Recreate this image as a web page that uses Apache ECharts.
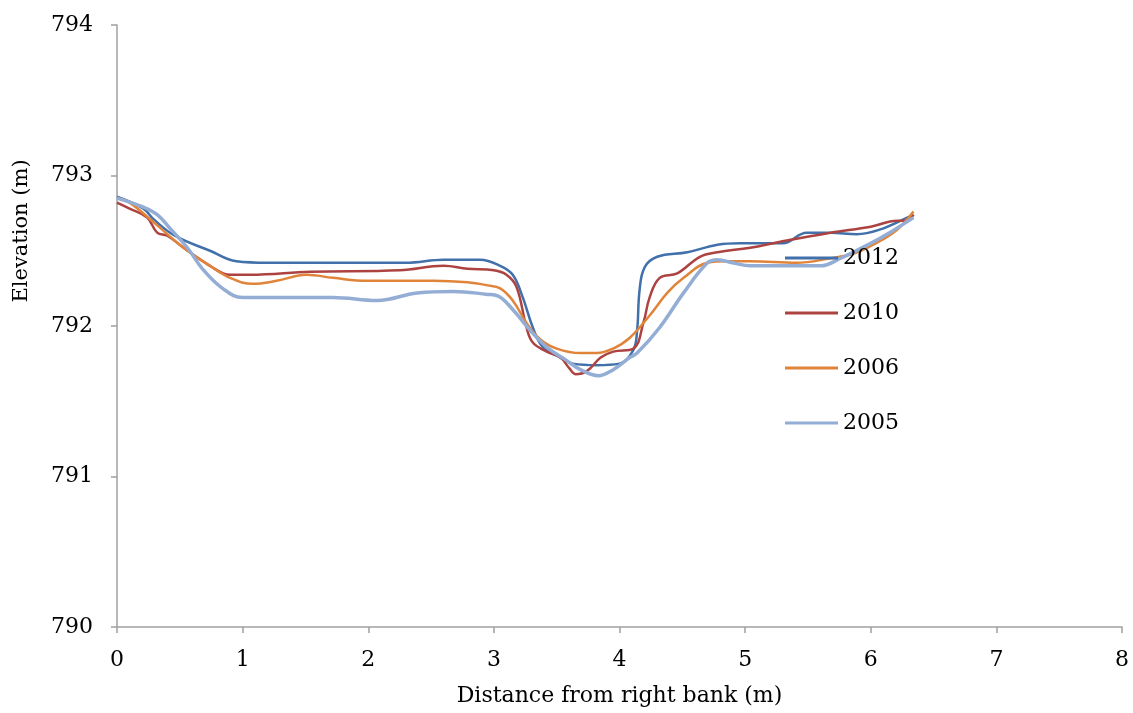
<!DOCTYPE html>
<html>
<head>
<meta charset="utf-8">
<script src="https://cdn.jsdelivr.net/npm/echarts@6/dist/echarts.min.js"></script>
<style>
  html, body { margin: 0; padding: 0; background: #fff; }
  #chart { width: 1133px; height: 713px; }
</style>
</head>
<body>
<div id="chart"></div>
<script>
// Cross-section survey: distance from right bank (m) vs bed elevation (m)
const years = ['2012', '2010', '2006', '2005'];

const dist2012 = [0, 0.21, 0.29, 0.46, 0.74, 0.95, 1.2, 1.8, 2.3, 2.6, 2.89, 3.05, 3.15, 3.23, 3.31, 3.39, 3.53, 3.63, 3.82, 4.0, 4.11, 4.14, 4.16, 4.2, 4.3, 4.54, 4.78, 4.96, 5.14, 5.3, 5.49, 5.68, 5.89, 6.07, 6.29, 6.34];
const elev2012 = [792.86, 792.78, 792.71, 792.6, 792.5, 792.43, 792.42, 792.42, 792.42, 792.44, 792.44, 792.4, 792.34, 792.19, 791.99, 791.86, 791.79, 791.75, 791.74, 791.75, 791.84, 791.97, 792.24, 792.39, 792.46, 792.49, 792.54, 792.55, 792.55, 792.55, 792.62, 792.62, 792.61, 792.64, 792.72, 792.74];

const dist2010 = [0, 0.1, 0.24, 0.32, 0.4, 0.53, 0.74, 0.9, 1.06, 1.54, 2.25, 2.6, 2.79, 3.0, 3.1, 3.18, 3.26, 3.31, 3.42, 3.53, 3.6, 3.65, 3.74, 3.85, 3.95, 4.11, 4.19, 4.24, 4.32, 4.46, 4.64, 4.78, 5.04, 5.28, 5.68, 6.0, 6.21, 6.29, 6.34];
const elev2010 = [792.82, 792.78, 792.72, 792.62, 792.6, 792.52, 792.4, 792.34, 792.34, 792.36, 792.37, 792.4, 792.38, 792.37, 792.34, 792.26, 791.99, 791.89, 791.83, 791.79, 791.72, 791.68, 791.7, 791.79, 791.83, 791.85, 792.02, 792.19, 792.32, 792.35, 792.46, 792.49, 792.52, 792.56, 792.62, 792.66, 792.7, 792.7, 792.74];

const dist2006 = [0, 0.1, 0.29, 0.53, 0.74, 0.9, 1.08, 1.27, 1.51, 1.72, 1.99, 2.52, 2.79, 2.95, 3.05, 3.15, 3.26, 3.37, 3.5, 3.69, 3.82, 3.95, 4.08, 4.24, 4.38, 4.51, 4.7, 4.86, 5.04, 5.41, 5.68, 5.86, 6.02, 6.21, 6.34];
const elev2006 = [792.85, 792.82, 792.69, 792.52, 792.4, 792.32, 792.28, 792.3, 792.34, 792.32, 792.3, 792.3, 792.29, 792.27, 792.25, 792.17, 792.02, 791.91, 791.85, 791.82, 791.82, 791.85, 791.92, 792.07, 792.22, 792.32, 792.42, 792.43, 792.43, 792.42, 792.45, 792.48, 792.54, 792.64, 792.76];

const dist2005 = [0, 0.21, 0.32, 0.42, 0.56, 0.68, 0.84, 1.0, 1.46, 1.72, 2.07, 2.39, 2.68, 2.95, 3.03, 3.15, 3.29, 3.42, 3.58, 3.69, 3.83, 3.95, 4.08, 4.14, 4.32, 4.51, 4.7, 4.78, 4.9, 5.04, 5.14, 5.41, 5.6, 5.76, 6.0, 6.15, 6.34];
const elev2005 = [792.85, 792.79, 792.74, 792.65, 792.52, 792.38, 792.25, 792.19, 792.19, 792.19, 792.17, 792.22, 792.23, 792.21, 792.2, 792.11, 791.97, 791.86, 791.77, 791.71, 791.67, 791.71, 791.79, 791.82, 791.99, 792.22, 792.42, 792.44, 792.42, 792.4, 792.4, 792.4, 792.4, 792.45, 792.55, 792.62, 792.72];

const xTicks = [0, 1, 2, 3, 4, 5, 6, 7, 8];
const yTicks = [790, 791, 792, 793, 794];

const colors = { '2012': '#4170AB', '2010': '#AD4341', '2006': '#E0843A', '2005': '#93ADD5' };
const widths = { '2012': 2.5, '2010': 2.5, '2006': 2.5, '2005': 3.5 };
const seriesData = {
  '2012': dist2012.map((d, i) => [d, elev2012[i]]),
  '2010': dist2010.map((d, i) => [d, elev2010[i]]),
  '2006': dist2006.map((d, i) => [d, elev2006[i]]),
  '2005': dist2005.map((d, i) => [d, elev2005[i]])
};

const FONT = 'DejaVu Serif';
const axisGray = '#A0A0A0';

const chart = echarts.init(document.getElementById('chart'), null, { renderer: 'canvas' });
chart.setOption({
  animation: false,
  backgroundColor: '#fff',
  grid: { left: 117, right: 11, top: 25, bottom: 86, containLabel: false },
  legend: {
    data: years.map(y => ({ name: y, icon: 'rect' })),
    orient: 'vertical',
    left: 780,
    top: 242,
    itemWidth: 53,
    itemHeight: 3,
    itemGap: 33,
    textStyle: { fontFamily: FONT, fontSize: 22, color: '#000', lineHeight: 22 }
  },
  // rotated y-axis title, sitting a little above the axis midpoint
  graphic: [{
    type: 'text',
    x: 22,
    y: 231,
    rotation: Math.PI / 2,
    style: {
      text: 'Elevation (m)',
      fontFamily: FONT,
      fontSize: 21,
      fill: '#000',
      align: 'center',
      verticalAlign: 'middle'
    }
  }],
  xAxis: {
    type: 'value',
    min: xTicks[0],
    max: xTicks[xTicks.length - 1],
    interval: 1,
    name: 'Distance from right bank (m)',
    nameLocation: 'middle',
    nameGap: 58,
    nameTextStyle: { fontFamily: FONT, fontSize: 22, color: '#000' },
    axisLine: { show: true, lineStyle: { color: axisGray, width: 1.5 } },
    axisTick: { show: true, length: 6, inside: false, lineStyle: { color: axisGray, width: 1.5 } },
    axisLabel: { fontFamily: FONT, fontSize: 22, color: '#000', margin: 22 },
    splitLine: { show: false }
  },
  yAxis: {
    type: 'value',
    min: yTicks[0],
    max: yTicks[yTicks.length - 1],
    interval: 1,
    axisLine: { show: true, lineStyle: { color: axisGray, width: 1.5 } },
    axisTick: { show: true, length: 6, inside: false, lineStyle: { color: axisGray, width: 1.5 } },
    axisLabel: { fontFamily: FONT, fontSize: 22, color: '#000', margin: 24 },
    splitLine: { show: false }
  },
  series: years.map(y => ({
    name: y,
    type: 'line',
    data: seriesData[y],
    smooth: 0.4,
    symbol: 'none',
    showSymbol: false,
    color: colors[y],
    lineStyle: { color: colors[y], width: widths[y] },
    emphasis: { disabled: true }
  }))
});
</script>
</body>
</html>
